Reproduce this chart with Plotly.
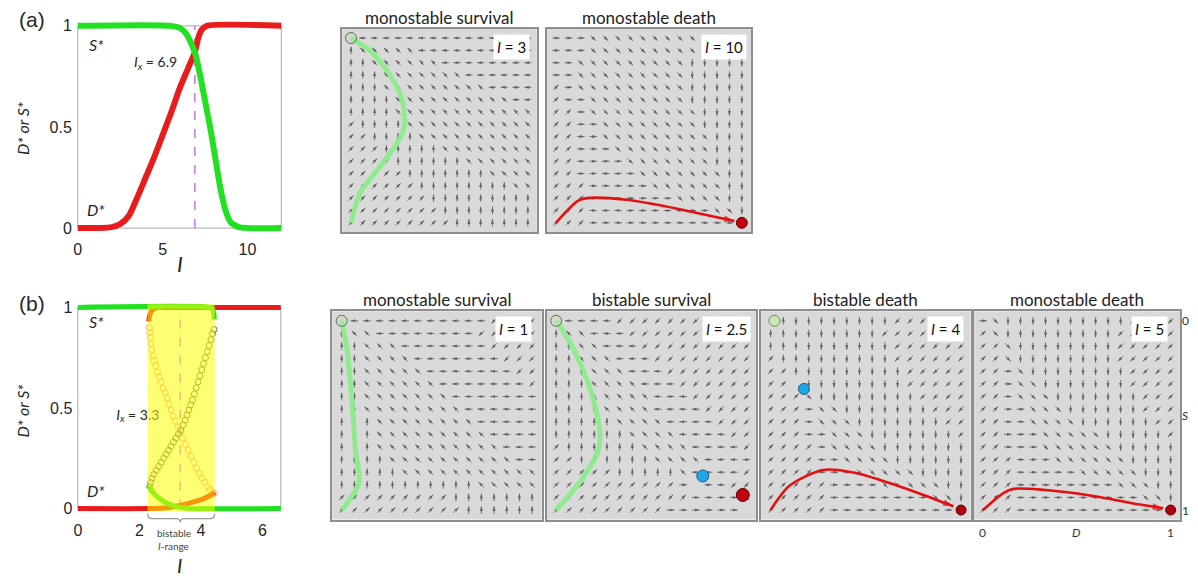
import math
import plotly.graph_objects as go

W, H = 1198, 583              # reference picture size
OFF = 8                       # page body margin in the browser
FW, FH = W - OFF, H - OFF     # figure size so that it lands on the reference pixels
TXT = "Lato"
NUM = "Liberation Sans"
INK = "#262626"

# ---------------- (a) steady states vs I ----------------
a_I_S = [0, 5.5, 6.0, 6.4, 6.9, 7.2, 7.5, 7.8, 8.1, 8.4, 8.7, 9.0, 9.5, 12]
a_S = [1, 1, 0.99, 0.96, 0.87, 0.76, 0.63, 0.5, 0.35, 0.2, 0.09, 0.03, 0.005, 0]
a_I_D = [0, 2.0, 2.5, 3.0, 3.5, 4.0, 4.5, 5.0, 5.5, 6.0, 6.5, 6.9, 7.1, 7.3, 7.6, 12]
a_D = [0, 0.005, 0.02, 0.06, 0.15, 0.25, 0.35, 0.46, 0.57, 0.69, 0.79, 0.87, 0.94, 0.98, 1, 1]
a_Ix = 6.9
a_xticks = [0, 5, 10]
a_yticks = [0, 0.5, 1]
a_xmax = 12

# ---------------- (b) steady states vs I (bistable) ----------------
b_band = [2.27, 4.45]
b_Ix = 3.33
b_xmax = 6.6
b_xticks = [0, 2, 4, 6]
b_yticks = [0, 0.5, 1]
b_Dlow_I = [0, 2.27, 2.8, 3.2, 3.5, 3.8, 4.1, 4.3, 4.45]
b_Dlow = [0, 0, 0.003, 0.012, 0.022, 0.035, 0.05, 0.065, 0.08]
b_Dhigh_I = [2.31, 2.33, 2.37, 2.45, 2.6, 2.8, 4.45, 6.6]
b_Dhigh = [0.93, 0.955, 0.975, 0.99, 1, 1, 1, 1]
b_Shigh_I = [0, 4.3, 4.38, 4.42, 4.44]
b_Shigh = [1, 1, 0.99, 0.97, 0.94]
b_Slow_I = [2.31, 2.35, 2.45, 2.6, 2.8, 3.0, 3.2, 3.4, 3.6, 6.6]
b_Slow = [0.115, 0.10, 0.08, 0.057, 0.035, 0.02, 0.01, 0.004, 0, 0]
b_Dunst_I = [2.33, 2.34, 2.36, 2.38, 2.41, 2.45, 2.49, 2.54, 2.59, 2.65, 2.71, 2.77, 2.84,
             2.90, 2.96, 3.03, 3.10, 3.17, 3.25, 3.33, 3.41, 3.50, 3.59, 3.68, 3.77, 3.86,
             3.95, 4.04, 4.13, 4.22, 4.30, 4.38, 4.44]
b_Dunst = [0.90, 0.875, 0.85, 0.82, 0.79, 0.76, 0.735, 0.71, 0.68, 0.655, 0.63, 0.60, 0.575,
           0.55, 0.52, 0.49, 0.46, 0.435, 0.405, 0.38, 0.35, 0.32, 0.29, 0.26, 0.23, 0.20,
           0.175, 0.15, 0.13, 0.11, 0.095, 0.08, 0.075]
b_Sunst_I = [2.34, 2.37, 2.41, 2.47, 2.55, 2.63, 2.71, 2.79, 2.87, 2.95, 3.03, 3.11, 3.19,
             3.27, 3.35, 3.42, 3.49, 3.55, 3.61, 3.67, 3.73, 3.79, 3.85, 3.91, 3.97, 4.03,
             4.09, 4.15, 4.21, 4.27, 4.33, 4.38, 4.43]
b_Sunst = [0.11, 0.13, 0.15, 0.17, 0.19, 0.21, 0.23, 0.25, 0.27, 0.29, 0.31, 0.33, 0.35,
           0.37, 0.39, 0.415, 0.44, 0.465, 0.49, 0.515, 0.54, 0.57, 0.60, 0.63, 0.66, 0.69,
           0.72, 0.75, 0.78, 0.81, 0.84, 0.87, 0.89]

# ---------------- phase-plane direction fields (rows: S=0 top -> S=1 bottom) -------------
field_a1 = [
    "·←←← ←←←← ←←←← ←←←←",
    "↑↖↖↖ ↖↖←← ←←←← ←←←←",
    "↑↑↖↖ ↖↖↖↖ ←←←← ←←←←",
    "↑↑↑↖ ↖↖↖↖ ↖↖←← ←←←←",
    "↑↑↑↖ ↖↖↖↖ ↖↖↖↖ ←←←←",
    "↑↑↑↑ ↖↖↖↖ ↖↖↖↖ ↖↖←←",
    "↑↑↑↑ ↖↖↖↖ ↖↖↖↖ ↖↖↖↖",
    "↗↑↑↑ ↑↖↖↖ ↖↖↖↖ ↖↖↖↖",
    "↗↗↑↑ ↑↑↖↖ ↖↖↖↖ ↖↖↖↖",
    "↗↗↗↑ ↑↑↑↑ ↖↖↖↖ ↖↖↖↖",
    "↗↗↗↗ ↑↑↑↑ ↑↑↖↖ ↖↖↖↖",
    "↗↗↗↗ ↗↑↑↑ ↑↑↑↑ ↖↖↖↖",
    "↗↗↗↗ ↗↗↑↑ ↑↑↑↑ ↑↑↖↖",
    "↗↗↗↗ ↗↗↗↑ ↑↑↑↑ ↑↑↑↑",
    "↗↗↗↗ ↗↗↗↗ ↑↑↑↑ ↑↑↑↑",
    "↗↗↗↗ ↗↗↗↗ ↗↑↑↑ ↑↑↑↑",
]
field_a2 = [
    "→→→↘ ↘↘↘↘ ↘↘↘↘ ↓↓↓↓",
    "→→→↘ ↘↘↘↘ ↘↘↘↘ ↓↓↓↓",
    "→→↘↘ ↘↘↘↘ ↘↘↘↓ ↓↓↓↓",
    "→→↘↘ ↘↘↘↘ ↘↘↘↓ ↓↓↓↓",
    "↗→↘↘ ↘↘↘↘ ↘↘↘↓ ↓↓↓↓",
    "↗→→↘ ↘↘↘↘ ↘↘↘↓ ↓↓↓↓",
    "↗↗→↘ ↘↘↘↘ ↘↘↘↘ ↓↓↓↓",
    "↗↗→→ ↘↘↘↘ ↘↘↘↘ ↓↓↓↓",
    "↗↗→→ ↘↘↘↘ ↘↘↘↘ ↘↓↓↓",
    "↗↗→→ →↘↘↘ ↘↘↘↘ ↘↓↓↓",
    "↗↗→→ →→↘↘ ↘↘↘↘ ↘↓↓↓",
    "↗↗→→ →→→↘ ↘↘↘↘ ↘↘↓↓",
    "↗↗↗→ →→→→ ↘↘↘↘ ↘↘↓↓",
    "↗↗↗→ →→→→ →→↘↘ ↘↘↓↓",
    "↗↗↗→ →→→→ →→→→ →↘↘↓",
    "↗↗↗→ →→→→ →→→→ →→→·",
]
field_b1 = [
    "·←←← ←←←← ←←←← ↙↙↙↙",
    "↑↖↖← ←←←← ←←←↙ ↙↙↙↙",
    "↑↑↖↖ ↖←←← ←←←← ↙↙↙↙",
    "↑↑↖↖ ↖↖←← ←←←← ←↙↙↙",
    "↑↑↖↖ ↖↖↖← ←←←← ←←↙↙",
    "↑↑↖↖ ↖↖↖↖ ←←←← ←←←↙",
    "↑↑↖↖ ↖↖↖↖ ↖←←← ←←←←",
    "↑↑↖↖ ↖↖↖↖ ↖↖←← ←←←←",
    "↑↑↑↖ ↖↖↖↖ ↖↖↖← ←←←←",
    "↑↑↑↖ ↖↖↖↖ ↖↖↖↖ ←←←←",
    "↑↑↑↖ ↖↖↖↖ ↖↖↖↖ ↖←←←",
    "↑↑↑↑ ↖↖↖↖ ↖↖↖↖ ↖↖←←",
    "↑↑↑↑ ↑↖↖↖ ↖↖↖↖ ↖↖↖↖",
    "↑↑↑↑ ↑↑↑↑ ↑↑↑↖ ↖↖↖↖",
    "↗↗↗↗ ↗↗↗↗ ↗↑↑↑ ↑↑↑↑",
    "↗↗↗↗ ↗↗↗↗ ↗↗↑↑ ↑↑↑↑",
]
field_b2 = [
    "·←←← ←↙↙↙ ↙↙↙↙ ↙↙↙↙",
    "↑↖↖← ←←↙↙ ↙↙↙↙ ↙↙↙↙",
    "↑↑↖↖ ←←←↙ ↙↙↙↙ ↙↙↙↙",
    "↑↑↖↖ ↖←←← ↙↙↙↙ ↙↙↙↙",
    "↑↑↑↖ ↖↖←← ←↙↙↙ ↙↙↙↙",
    "↑↑↑↖ ↖↖↖← ←←↙↙ ↙↙↙↙",
    "↑↑↑↖ ↖↖↖↖ ←←←↙ ↙↙↙↙",
    "↑↑↑↑ ↖↖↖↖ ←←←← ↙↙↙↙",
    "↑↑↑↑ ↑↖↖↖ ↖←←← ←↙↙↙",
    "↑↑↑↑ ↑↑↖↖ ↖↖←← ←←↙↙",
    "↗↑↑↑ ↑↑↑↖ ↖↖↖← ←←←↙",
    "↗↗↑↑ ↑↑↑↑ ↖↖↖↖ ←←←←",
    "↗↗↗↗ ↗↑↑↑ ↑↑↖← ←←←↙",
    "↗↗↗↗ ↗↗↗↗ ↗↗→· ←←↙↙",
    "↗↗↗↗ ↗↗↗↗ ↗↗↗→ →→→↘",
    "↗↗↗↗ ↗↗↗↗ ↗→→→ →→→·",
]
field_b3 = [
    "·↑↓↓ ↓↓↓↓ ↓↓↙↙ ↙↙↙↙",
    "↑↑↓↓ ↓↓↓↓ ↓↙↙↙ ↙↙↙↙",
    "↑↑↑↓ ↓↓↓↓ ↓↓↙↙ ↙↙↙↙",
    "↗↑↑↓ ↓↓↓↓ ↓↓↙↙ ↙↙↙↙",
    "↗↗↑↓ ↓↓↓↓ ↓↓↓↙ ↙↙↙↙",
    "↗↗·↓ ↓↓↓↓ ↓↓↓↙ ↙↙↙↙",
    "↗↗↗↘ ↓↓↓↓ ↓↓↓↓ ↙↙↙↙",
    "↗↗↗→ ↘↘↓↓ ↓↓↓↓ ↓↙↙↙",
    "↗↗↗→ ↘↘↘↓ ↓↓↓↓ ↓↓↙↙",
    "↗↗↗→ →↘↘↘ ↓↓↓↓ ↓↓↓↙",
    "↗↗↗↗ →↘↘↘ ↘↓↓↓ ↓↓↓↓",
    "↗↗↗↗ →→↘↘ ↘↘↓↓ ↓↓↓↓",
    "↗↗↗↗ →→→↘ ↘↘↘↘ ↓↓↓↓",
    "↗↗↗↗ ↗→→→ →↘↘↘ ↘↘↓↓",
    "↗↗↗↗ ↗→→→ →→→→ →↘↘↓",
    "↗↗↗↗ ↗→→→ →→→→ →→→·",
]
field_b4 = [
    "→↘↓↓ ↓↓↓↓ ↓↓↓↓ ↙↙↙↙",
    "↗↘↓↓ ↓↓↓↓ ↓↓↓↙ ↙↙↙↙",
    "↗↗↘↓ ↓↓↓↓ ↓↓↓↙ ↙↙↙↙",
    "↗↗↘↓ ↓↓↓↓ ↓↓↓↙ ↙↙↙↙",
    "↗↗→↘ ↓↓↓↓ ↓↓↓↓ ↙↙↙↙",
    "↗↗→↘ ↘↓↓↓ ↓↓↓↓ ↙↙↙↙",
    "↗↗→↘ ↘↘↓↓ ↓↓↓↓ ↓↙↙↙",
    "↗↗→→ ↘↘↘↓ ↓↓↓↓ ↓↙↙↙",
    "↗↗→→ ↘↘↘↘ ↓↓↓↓ ↓↓↙↙",
    "↗↗→→ →↘↘↘ ↘↘↓↓ ↓↓↓↙",
    "↗↗→→ →↘↘↘ ↘↘↘↓ ↓↓↓↓",
    "↗↗↗→ →→↘↘ ↘↘↘↘ ↓↓↓↓",
    "↗↗↗→ →→→→ ↘↘↘↘ ↘↓↓↓",
    "↗↗↗→ →→→→ →→→↘ ↘↘↓↓",
    "↗↗↗→ →→→→ →→→→ →↘↘↓",
    "↗↗↗→ →→→→ →→→→ →→→·",
]

# trajectories (D, S)
traj_a1_D = [0, 0.05, 0.16, 0.26, 0.30, 0.29, 0.22, 0.11, 0.0]
traj_a1_S = [1, 0.84, 0.70, 0.57, 0.48, 0.34, 0.20, 0.07, 0.0]
traj_a2_D = [0, 0.12, 0.18, 0.38, 0.56, 0.74, 0.96]
traj_a2_S = [1.0, 0.88, 0.865, 0.875, 0.905, 0.943, 0.99]
traj_b1_D = [0, 0.09, 0.072, 0.06, 0.046, 0.029, 0.0]
traj_b1_S = [1, 0.856, 0.682, 0.507, 0.332, 0.158, 0.0]
traj_b2_D = [0, 0.133, 0.222, 0.228, 0.186, 0.097, 0.0]
traj_b2_S = [1, 0.84, 0.683, 0.578, 0.385, 0.16, 0.0]
traj_b3_D = [0, 0.099, 0.275, 0.448, 0.62, 0.799, 0.96]
traj_b3_S = [1, 0.872, 0.788, 0.804, 0.856, 0.919, 0.98]
traj_b4_D = [0, 0.111, 0.163, 0.318, 0.578, 0.837, 0.96]
traj_b4_S = [1, 0.909, 0.888, 0.893, 0.924, 0.971, 0.99]

fp_survival = [0.0, 0.0]
fp_b3_survival = [0.02, 0.0]
fp_death = [1.0, 1.0]
fp_b2_node = [0.98, 0.92]
fp_b2_saddle = [0.77, 0.82]
fp_b3_saddle = [0.175, 0.36]

titles_a = ["monostable survival", "monostable death"]
titles_b = ["monostable survival", "bistable survival", "bistable death", "monostable death"]
I_values = ["3", "10", "1", "2.5", "4", "5"]
phase_ticks = [0, 1]
phase_D_label = "D"
phase_S_label = "S"


# ---------------- geometry helpers (reference pixels -> paper) ----------------
def px(x):
    return (x - OFF) / FW


def py(y):
    return 1 - (y - OFF) / FH


def line_dom(x0px, xscale, y0px, yscale, xr, yr):
    dx = [px(x0px + xr[0] * xscale), px(x0px + xr[1] * xscale)]
    dy = [py(y0px - yr[0] * yscale), py(y0px - yr[1] * yscale)]
    return dx, dy


A_X0, A_XS, A_Y0, A_YS = 75, 17.0, 228, 204
B_X0, B_XS, B_Y0, B_YS = 75, 30.83, 511, 203
a_xr, a_yr = [-0.12, a_xmax + 0.12], [-0.03, 1.03]
b_xr, b_yr = [-0.05, b_xmax + 0.05], [-0.03, 1.03]
a_dx, a_dy = line_dom(A_X0, A_XS, A_Y0, A_YS, a_xr, a_yr)
b_dx, b_dy = line_dom(B_X0, B_XS, B_Y0, B_YS, b_xr, b_yr)

# field panel boxes in reference pixels (left, right, top, bottom)
boxes = {
    2: (340, 535, 27, 232),
    3: (545, 750, 27, 232),
    5: (330, 540, 312, 522),
    6: (545, 755, 312, 522),
    7: (760, 970, 312, 522),
    8: (973, 1180, 312, 522),
}
label_right = {2: 528, 3: 746, 5: 530, 6: 750, 7: 963, 8: 1168}
PR = [-0.05, 1.05]   # phase-plane axis range

fig = go.Figure()
shapes = []
annotations = []

GREEN = "#22e022"
RED = "#e81c1c"

# ---------- (a) line chart ----------
fig.add_trace(go.Scatter(x=[a_Ix, a_Ix], y=[0, 1], mode="lines",
                         line=dict(color="#c77dea", width=1.6, dash="dash"),
                         xaxis="x", yaxis="y", hoverinfo="skip"))
fig.add_trace(go.Scatter(x=a_I_D, y=a_D, mode="lines", line=dict(color=RED, width=6, shape="spline", smoothing=0.7),
                         xaxis="x", yaxis="y"))
fig.add_trace(go.Scatter(x=a_I_S, y=a_S, mode="lines", line=dict(color=GREEN, width=6, shape="spline", smoothing=0.7),
                         xaxis="x", yaxis="y"))

# ---------- (b) line chart ----------
fig.add_trace(go.Scatter(x=[b_Ix, b_Ix], y=[0, 1], mode="lines",
                         line=dict(color="#c77dea", width=1.6, dash="dash"),
                         xaxis="x4", yaxis="y4", hoverinfo="skip"))
fig.add_trace(go.Scatter(x=b_Dunst_I, y=b_Dunst, mode="markers",
                         marker=dict(symbol="circle-open", size=6, color="#f4a08c", line=dict(width=1)),
                         xaxis="x4", yaxis="y4"))
fig.add_trace(go.Scatter(x=b_Sunst_I, y=b_Sunst, mode="markers",
                         marker=dict(symbol="circle-open", size=6, color="#6a6c60", line=dict(width=1)),
                         xaxis="x4", yaxis="y4"))
for xs, ys, col in [(b_Dlow_I, b_Dlow, RED), (b_Dhigh_I, b_Dhigh, RED),
                    (b_Slow_I, b_Slow, GREEN), (b_Shigh_I, b_Shigh, GREEN)]:
    fig.add_trace(go.Scatter(x=xs, y=ys, mode="lines",
                             line=dict(color=col, width=5, shape="spline", smoothing=0.6),
                             xaxis="x4", yaxis="y4"))
fig.add_trace(go.Scatter(x=[1.95], y=[0.46], mode="text",
                         text=["<i>I</i><sub><i>x</i></sub> = 3.3"],
                         textfont=dict(family=TXT, size=14, color=INK),
                         xaxis="x4", yaxis="y4", cliponaxis=False))

# ---------- direction fields ----------
DIRS = {"→": (1, 0), "↗": (1, 1), "↑": (0, 1), "↖": (-1, 1),
        "←": (-1, 0), "↙": (-1, -1), "↓": (0, -1), "↘": (1, -1)}
ARROW_COL = "#666666"


def add_field(field, k):
    rows = ["".join(r.split()) for r in field]
    nr = len(rows)
    L = 0.04
    sx, sy, hx, hy, ang = [], [], [], [], []
    for j, row in enumerate(rows):
        nc = len(row)
        for i, ch in enumerate(row):
            if ch not in DIRS:
                continue
            dx, du = DIRS[ch]
            n = math.hypot(dx, du)
            ux, uu = dx / n, du / n
            cx, cy = i / (nc - 1), j / (nr - 1)
            x0, y0 = cx - ux * L / 2, cy + uu * L / 2
            x1, y1 = cx + ux * L / 2, cy - uu * L / 2
            sx += [x0, x1, None]
            sy += [y0, y1, None]
            hx.append(x1)
            hy.append(y1)
            ang.append(math.degrees(math.atan2(ux, uu)))
    fig.add_trace(go.Scatter(x=sx, y=sy, mode="lines", line=dict(color=ARROW_COL, width=0.9),
                             xaxis=f"x{k}", yaxis=f"y{k}", hoverinfo="skip"))
    fig.add_trace(go.Scatter(x=hx, y=hy, mode="markers",
                             marker=dict(symbol="arrow", size=5, angle=ang, color=ARROW_COL,
                                         line=dict(width=0)),
                             xaxis=f"x{k}", yaxis=f"y{k}", hoverinfo="skip"))


def add_green(D, S, k):
    fig.add_trace(go.Scatter(x=D, y=S, mode="lines",
                             line=dict(color="rgba(140,236,140,0.95)", width=5, shape="spline", smoothing=0.8),
                             xaxis=f"x{k}", yaxis=f"y{k}"))


def add_red(D, S, k):
    n = len(D)
    fig.add_trace(go.Scatter(x=D, y=S, mode="lines+markers",
                             line=dict(color="#e41010", width=2.6, shape="spline", smoothing=0.8),
                             marker=dict(symbol="arrow", angleref="previous", size=[0] * (n - 1) + [11],
                                         color="#e41010", line=dict(width=0)),
                             xaxis=f"x{k}", yaxis=f"y{k}", cliponaxis=False))


def add_point(p, k, fill, edge, size=11):
    fig.add_trace(go.Scatter(x=[p[0]], y=[p[1]], mode="markers",
                             marker=dict(symbol="circle", size=size, color=fill, line=dict(color=edge, width=1)),
                             xaxis=f"x{k}", yaxis=f"y{k}", cliponaxis=False))


fields = {2: field_a1, 3: field_a2, 5: field_b1, 6: field_b2, 7: field_b3, 8: field_b4}
for k, f in fields.items():
    add_field(f, k)

open_fill, open_edge = "rgba(190,215,180,0.35)", "#5c7050"
add_green(traj_a1_D, traj_a1_S, 2)
add_point(fp_survival, 2, open_fill, open_edge)
add_red(traj_a2_D, traj_a2_S, 3)
add_point(fp_death, 3, "#c00010", "#700000")
add_green(traj_b1_D, traj_b1_S, 5)
add_point(fp_survival, 5, open_fill, open_edge)
add_green(traj_b2_D, traj_b2_S, 6)
add_point(fp_survival, 6, "rgba(200,225,185,0.6)", open_edge)
add_point(fp_b2_saddle, 6, "#1ea8e6", "#1d5d8c", 12)
add_point(fp_b2_node, 6, "#c00010", "#600000", 13)
add_point(fp_b3_survival, 7, "#c8e8b8", "#6f8a60")
add_point(fp_b3_saddle, 7, "#1ea8e6", "#1d5d8c", 11)
add_red(traj_b3_D, traj_b3_S, 7)
add_point(fp_death, 7, "#b00010", "#600000", 10)
add_red(traj_b4_D, traj_b4_S, 8)
add_point(fp_death, 8, "#b00010", "#600000", 10)

# ---------------- layout ----------------
layout = dict(width=FW, height=FH, margin=dict(l=0, r=0, t=0, b=0),
              paper_bgcolor="white", plot_bgcolor="white", showlegend=False)

tickfont = dict(family=NUM, size=16, color=INK)
layout["xaxis"] = dict(domain=a_dx, range=a_xr, anchor="y", tickvals=a_xticks, tickfont=tickfont,
                       showgrid=False, zeroline=False, showline=False, ticks="", ticklabelstandoff=4)
layout["yaxis"] = dict(domain=a_dy, range=a_yr, anchor="x", tickvals=a_yticks, ticktext=["0", "0.5", "1"],
                       tickfont=tickfont, showgrid=False, zeroline=False, showline=False, ticks="",
                       ticklabelstandoff=3)
layout["xaxis4"] = dict(domain=b_dx, range=b_xr, anchor="y4", tickvals=b_xticks, tickfont=tickfont,
                        showgrid=False, zeroline=False, showline=False, ticks="", ticklabelstandoff=4)
layout["yaxis4"] = dict(domain=b_dy, range=b_yr, anchor="x4", tickvals=b_yticks, ticktext=["0", "0.5", "1"],
                        tickfont=tickfont, showgrid=False, zeroline=False, showline=False, ticks="",
                        ticklabelstandoff=3)

for k, (l, r, t, b) in boxes.items():
    layout[f"xaxis{k}"] = dict(domain=[px(l), px(r)], range=PR, anchor=f"y{k}", showgrid=False,
                               zeroline=False, showticklabels=False, ticks="", showline=True, mirror=True,
                               linecolor="#8e8e8e", linewidth=1.5)
    layout[f"yaxis{k}"] = dict(domain=[py(b), py(t)], range=PR[::-1], anchor=f"x{k}", showgrid=False,
                               zeroline=False, showticklabels=False, ticks="", showline=True, mirror=True,
                               linecolor="#8e8e8e", linewidth=1.5)
    shapes.append(dict(type="rect", xref=f"x{k} domain", yref=f"y{k} domain", x0=0, x1=1, y0=0, y1=1,
                       fillcolor="#d9d9d9", line=dict(width=0), layer="below"))

# frames of line charts
shapes.append(dict(type="rect", xref="x", yref="y", x0=0, x1=a_xmax, y0=0, y1=1,
                   line=dict(color="#a8a8a8", width=1), layer="below"))
shapes.append(dict(type="rect", xref="x4", yref="y4", x0=0, x1=b_xmax, y0=0, y1=1,
                   line=dict(color="#a8a8a8", width=1), layer="below"))
# bistable band overlay
shapes.append(dict(type="rect", xref="x4", yref="y4", x0=b_band[0], x1=b_band[1], y0=-0.016, y1=1.016,
                   fillcolor="#ffff00", opacity=0.55, line=dict(width=0), layer="above"))

# brace under bistable range
bl, br, bm = B_X0 + b_band[0] * B_XS, B_X0 + b_band[1] * B_XS, B_X0 + b_Ix * B_XS
yt, ym, yb = 516, 521, 525
pts = lambda x, y: f"{px(x):.5f},{py(y):.5f}"
path = (f"M {pts(bl, yt)} Q {pts(bl, ym)} {pts(bl + 4, ym)} L {pts(bm - 4, ym)} "
        f"Q {pts(bm, ym)} {pts(bm, yb)} Q {pts(bm, ym)} {pts(bm + 4, ym)} "
        f"L {pts(br - 4, ym)} Q {pts(br, ym)} {pts(br, yt)}")
shapes.append(dict(type="path", xref="paper", yref="paper", path=path, line=dict(color="#9a9a9a", width=1.2)))


def ann(x, y, text, size=14, family=TXT, color=INK, **kw):
    d = dict(x=px(x), y=py(y), xref="paper", yref="paper", text=text, showarrow=False,
             xanchor="center", yanchor="middle", font=dict(family=family, size=size, color=color))
    d.update(kw)
    annotations.append(d)


ann(29, 18, "(a)", size=21, family=NUM)
ann(29, 304, "(b)", size=21, family=NUM)
ann(177, 264, "<i>I</i>", size=22)
ann(177, 568, "<i>I</i>", size=20)
ann(20, 127, "<i>D* or S*</i>", size=16, textangle=-90)
ann(20, 412, "<i>D* or S*</i>", size=16, textangle=-90)
ann(171, 536, "bistable", size=10, color="#444")
ann(171, 549, "<i>I</i>-range", size=10, color="#444")

# phase-plane tick labels of the last panel (placed on its own axes)
lab_font = dict(family=TXT, size=12, color="#333")
for v in phase_ticks:
    annotations.append(dict(x=v, y=0, xref="x8", yref="y8 domain", yshift=-3, yanchor="top", xanchor="center",
                            text=str(v), showarrow=False, font=lab_font))
    annotations.append(dict(x=1, y=v, xref="x8 domain", yref="y8", xshift=1, xanchor="left", yanchor="middle",
                            text=str(v), showarrow=False, font=lab_font, borderpad=0))
annotations.append(dict(x=0.5, y=0, xref="x8", yref="y8 domain", yshift=-3, yanchor="top", xanchor="center",
                        text=f"<i>{phase_D_label}</i>", showarrow=False, font=lab_font))
annotations.append(dict(x=1, y=0.5, xref="x8 domain", yref="y8", xshift=1, xanchor="left", yanchor="middle",
                        text=f"<i>{phase_S_label}</i>", showarrow=False, font=lab_font, borderpad=0))

# curve labels (data coords)
for xr_, yr_, lab, xv, yv in [("x", "y", "<i>S*</i>", 1.1, 0.91), ("x", "y", "<i>D*</i>", 1.1, 0.09),
                              ("x4", "y4", "<i>S*</i>", 0.6, 0.93), ("x4", "y4", "<i>D*</i>", 0.6, 0.09)]:
    annotations.append(dict(x=xv, y=yv, xref=xr_, yref=yr_, text=lab, showarrow=False,
                            xanchor="center", yanchor="middle",
                            font=dict(family=TXT, size=16, color=INK)))
annotations.append(dict(x=4.6, y=0.82, xref="x", yref="y", text="<i>I</i><sub><i>x</i></sub> = 6.9",
                        showarrow=False, xanchor="center", yanchor="middle",
                        font=dict(family=TXT, size=14, color=INK)))

# panel titles and I labels
title_keys = [(2, titles_a[0]), (3, titles_a[1]), (5, titles_b[0]), (6, titles_b[1]),
              (7, titles_b[2]), (8, titles_b[3])]
for k, t in title_keys:
    l, r, tp, b = boxes[k]
    ann((l + r) / 2, tp - 11.5, t, size=17, color="#222")
for (k, _), iv in zip(title_keys, I_values):
    l, r, tp, b = boxes[k]
    annotations.append(dict(x=px(label_right[k]), y=py(tp + 5), xref="paper", yref="paper",
                            xanchor="right", yanchor="top", text=f"<i>I</i> = {iv}", showarrow=False,
                            bgcolor="white", borderpad=3, font=dict(family=TXT, size=15, color="#111")))

layout["shapes"] = shapes
layout["annotations"] = annotations
fig.update_layout(**layout)
fig.write_html("out.html")
